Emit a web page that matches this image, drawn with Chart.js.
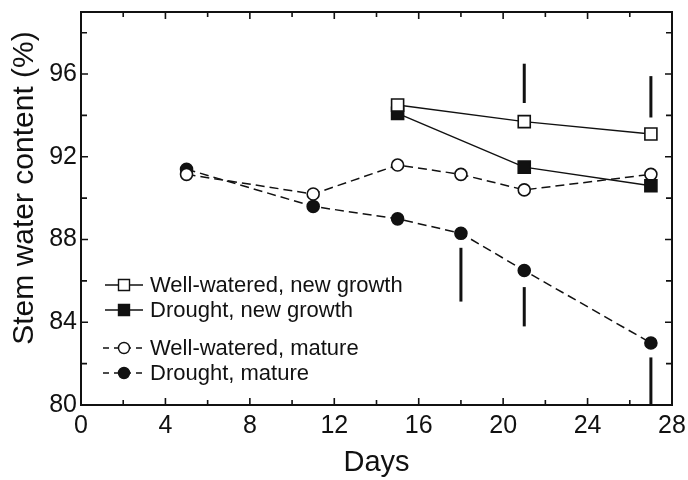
<!DOCTYPE html>
<html>
<head>
<meta charset="utf-8">
<script src="https://cdn.jsdelivr.net/npm/chart.js@4"></script>
<style>
  html, body { margin: 0; padding: 0; background: #fff; }
  #wrap { width: 688px; height: 480px; }
</style>
</head>
<body>
<div id="wrap"><canvas id="grafico"></canvas></div>
<script>
const fuente = "'Liberation Sans', Arial, Helvetica, sans-serif";

// datos
const diasNuevo = [15, 21, 27];
const riegoNuevo = [94.5, 93.7, 93.1];
const sequiaNuevo = [94.1, 91.5, 90.6];

const diasMaduro = [5, 11, 15, 18, 21, 27];
const riegoMaduro = [91.15, 90.2, 91.6, 91.15, 90.4, 91.15];
const sequiaMaduro = [91.4, 89.6, 89.0, 88.3, 86.5, 83.0];

// barras verticales (diferencias)
const barraDias = [21, 27, 18, 21, 27];
const barraBajo = [94.6, 93.9, 85.0, 83.8, 80.0];
const barraAlto = [96.5, 95.9, 87.6, 85.7, 82.3];

const etiquetas = [
  "Well-watered, new growth",
  "Drought, new growth",
  "Well-watered, mature",
  "Drought, mature"
];
const tituloY = "Stem water content (%)";

const puntos = (xs, ys) => xs.map((x, i) => ({ x: x, y: ys[i] }));

const serie = (label, xs, ys, estilo, relleno, guion) => ({
  label: label,
  data: puntos(xs, ys),
  borderColor: "#111",
  borderWidth: 1.5,
  borderDash: guion,
  pointStyle: estilo,
  pointRadius: estilo === "rect" ? 8.5 : 6,
  pointBorderWidth: 1.6,
  pointBorderColor: "#111",
  pointBackgroundColor: relleno,
  tension: 0,
  fill: false,
  esSerie: true
});

const datasets = [
  serie(etiquetas[0], diasNuevo, riegoNuevo, "rect", "#fff", []),
  serie(etiquetas[1], diasNuevo, sequiaNuevo, "rect", "#111", []),
  serie(etiquetas[2], diasMaduro, riegoMaduro, "circle", "#fff", [9, 5]),
  serie(etiquetas[3], diasMaduro, sequiaMaduro, "circle", "#111", [9, 5])
];

barraDias.forEach((d, i) => {
  datasets.push({
    label: "",
    data: [{ x: d, y: barraBajo[i] }, { x: d, y: barraAlto[i] }],
    borderColor: "#111",
    borderWidth: 3,
    pointRadius: 0,
    fill: false
  });
});

// marco con marcas hacia adentro, titulo del eje y y leyenda dentro del grafico
const marco = {
  id: "marco",
  afterDraw(chart) {
    const c = chart.ctx;
    const a = chart.chartArea;
    const xs = chart.scales.x;
    const ys = chart.scales.y;
    c.save();
    c.strokeStyle = "#111";
    c.lineWidth = 1.6;
    xs.ticks.forEach((t) => {
      const px = xs.getPixelForValue(t.value);
      const largo = t.value % 4 === 0 ? 7 : 5;
      c.beginPath();
      c.moveTo(px, a.bottom); c.lineTo(px, a.bottom - largo);
      c.moveTo(px, a.top); c.lineTo(px, a.top + largo);
      c.stroke();
    });
    ys.ticks.forEach((t) => {
      const py = ys.getPixelForValue(t.value);
      const largo = t.value % 4 === 0 ? 7 : 6;
      c.beginPath();
      c.moveTo(a.left, py); c.lineTo(a.left + largo, py);
      c.moveTo(a.right, py); c.lineTo(a.right - largo, py);
      c.stroke();
    });
    c.lineWidth = 2;
    c.strokeRect(a.left, a.top, a.right - a.left, a.bottom - a.top);

    // titulo del eje y
    c.save();
    c.translate(25, 188);
    c.rotate(-Math.PI / 2);
    c.font = "30px " + fuente;
    c.textAlign = "center";
    c.textBaseline = "middle";
    c.fillStyle = "#111";
    c.fillText(tituloY, 0, 0);
    c.restore();

    // leyenda
    const filas = [a.top + 273, a.top + 298, a.top + 336, a.top + 361];
    const x0 = a.left + 24;
    const x1 = a.left + 62;
    const xm = (x0 + x1) / 2;
    c.font = "22px " + fuente;
    c.textBaseline = "middle";
    c.textAlign = "left";
    chart.data.datasets.filter((d) => d.esSerie).forEach((d, i) => {
      const y = filas[i];
      c.lineWidth = 1.5;
      c.setLineDash(d.borderDash.length ? [6, 5] : []);
      c.beginPath();
      c.moveTo(d.borderDash.length ? x0 - 2 : x0, y);
      c.lineTo(x1, y);
      c.stroke();
      c.setLineDash([]);
      c.lineWidth = 1.4;
      c.fillStyle = d.pointBackgroundColor;
      c.beginPath();
      if (d.pointStyle === "rect") {
        c.rect(xm - 5.5, y - 5.5, 11, 11);
      } else {
        c.arc(xm, y, 5.5, 0, Math.PI * 2);
      }
      c.fill();
      c.stroke();
      c.fillStyle = "#111";
      c.fillText(d.label, a.left + 69, y + 1);
    });
    c.restore();
  }
};

new Chart(document.querySelector("#grafico"), {
  type: "line",
  data: { datasets: datasets },
  options: {
    responsive: true,
    maintainAspectRatio: false,
    animation: false,
    layout: { padding: { top: 12, right: 16, left: 0, bottom: 0 } },
    plugins: {
      legend: { display: false },
      tooltip: { enabled: false }
    },
    scales: {
      x: {
        type: "linear",
        min: 0,
        max: 28,
        ticks: {
          stepSize: 2,
          padding: 6,
          color: "#111",
          font: { family: fuente, size: 25 },
          callback: (v) => (v % 4 === 0 ? v : "")
        },
        grid: { drawOnChartArea: false, drawTicks: false },
        border: { display: false },
        title: {
          display: true,
          text: "Days",
          color: "#111",
          font: { family: fuente, size: 29 },
          padding: { top: 0, bottom: 0 }
        },
        afterFit: (s) => {
          s.height = 75;
          s.paddingLeft = 0;
          s.paddingRight = 0;
        }
      },
      y: {
        min: 80,
        max: 99,
        ticks: {
          stepSize: 1,
          padding: 4,
          color: "#111",
          font: { family: fuente, size: 25 },
          callback: (v) => (v % 4 === 0 ? v : "")
        },
        grid: { drawOnChartArea: false, drawTicks: false },
        border: { display: false },
        afterFit: (s) => {
          s.width = 81;
          s.paddingTop = 0;
          s.paddingBottom = 0;
        }
      }
    }
  },
  plugins: [marco]
});
</script>
</body>
</html>
